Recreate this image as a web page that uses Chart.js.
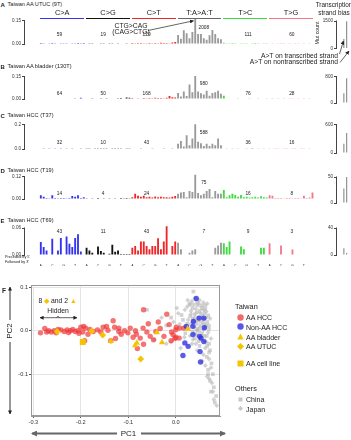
<!DOCTYPE html>
<html>
<head>
<meta charset="utf-8">
<script src="https://cdn.jsdelivr.net/npm/chart.js@4.4.1/dist/chart.umd.min.js"></script>
<style>
  body { margin: 0; background: #fff; }
  #wrap { position: relative; width: 351px; height: 440px; overflow: hidden; font-family: "Liberation Sans", Arial, sans-serif; }
  #wrap canvas { position: absolute; }
  .t { position: absolute; white-space: nowrap; color: #222; line-height: 1; }
  svg { position: absolute; left: 0; top: 0; }
</style>
</head>
<body>
<div id="wrap"></div>
<script>
// ---- data ----
var mutTypes = ['C>A', 'C>G', 'C>T', 'T:A>A:T', 'T>C', 'T>G'];
var bases = ['A', 'C', 'G', 'T'];

// 96 trinucleotide contexts, 16 per mutation type (C>A, C>G, C>T, T>A, T>C, T>G)
var specUTUC = [
  0.006,0.004,0.003,0.005,0.006,0.004,0.003,0.005,0.004,0.004,0.003,0.004,0.005,0.006,0.004,0.007,
  0.003,0.002,0.002,0.003,0.003,0.002,0.002,0.003,0.002,0.002,0.003,0.002,0.003,0.003,0.002,0.003,
  0.006,0.005,0.007,0.006,0.005,0.004,0.006,0.005,0.006,0.005,0.008,0.006,0.007,0.005,0.009,0.012,
  0.058,0.033,0.087,0.069,0.036,0.076,0.165,0.064,0.064,0.036,0.027,0.055,0.090,0.064,0.036,0.030,
  0.008,0.004,0.005,0.006,0.004,0.003,0.005,0.004,0.005,0.003,0.004,0.006,0.004,0.003,0.005,0.004,
  0.003,0.002,0.003,0.002,0.004,0.002,0.003,0.002,0.003,0.002,0.002,0.003,0.002,0.003,0.002,0.003
];
var specBladder = [
  0.004,0.003,0.004,0.003,0.004,0.003,0.003,0.004,0.003,0.004,0.003,0.004,0.005,0.004,0.008,0.004,
  0.003,0.003,0.002,0.003,0.003,0.002,0.003,0.002,0.003,0.003,0.004,0.002,0.006,0.004,0.010,0.008,
  0.006,0.004,0.005,0.004,0.007,0.005,0.006,0.005,0.008,0.006,0.007,0.005,0.008,0.020,0.012,0.010,
  0.040,0.017,0.050,0.020,0.098,0.045,0.155,0.050,0.038,0.030,0.056,0.022,0.040,0.045,0.056,0.035,
  0.022,0.004,0.003,0.004,0.003,0.002,0.003,0.004,0.003,0.002,0.004,0.003,0.002,0.003,0.004,0.002,
  0.003,0.002,0.003,0.002,0.003,0.002,0.003,0.002,0.002,0.003,0.002,0.003,0.002,0.003,0.002,0.003
];
var specT37 = [
  0.004,0.003,0.004,0.003,0.004,0.003,0.005,0.003,0.004,0.003,0.004,0.003,0.005,0.004,0.006,0.004,
  0.003,0.003,0.004,0.003,0.003,0.002,0.003,0.003,0.004,0.003,0.003,0.002,0.003,0.004,0.003,0.003,
  0.004,0.005,0.004,0.006,0.005,0.004,0.005,0.006,0.004,0.005,0.004,0.006,0.005,0.004,0.006,0.005,
  0.043,0.067,0.020,0.114,0.030,0.086,0.205,0.060,0.048,0.024,0.043,0.024,0.043,0.030,0.086,0.030,
  0.004,0.003,0.004,0.003,0.004,0.003,0.005,0.004,0.003,0.004,0.008,0.004,0.003,0.004,0.003,0.004,
  0.003,0.004,0.003,0.003,0.004,0.003,0.003,0.004,0.003,0.003,0.004,0.003,0.006,0.004,0.003,0.005
];
var specT19 = [
  0.020,0.012,0.006,0.004,0.020,0.005,0.004,0.006,0.005,0.004,0.006,0.016,0.012,0.020,0.006,0.010,
  0.004,0.003,0.004,0.003,0.005,0.003,0.004,0.003,0.004,0.003,0.004,0.003,0.005,0.004,0.006,0.004,
  0.010,0.028,0.017,0.012,0.018,0.010,0.012,0.008,0.014,0.010,0.012,0.009,0.010,0.008,0.012,0.016,
  0.028,0.035,0.038,0.010,0.043,0.038,0.130,0.032,0.020,0.028,0.043,0.054,0.010,0.043,0.028,0.028,
  0.048,0.010,0.020,0.028,0.022,0.012,0.022,0.010,0.012,0.008,0.010,0.012,0.008,0.015,0.010,0.008,
  0.020,0.018,0.006,0.005,0.006,0.004,0.005,0.006,0.004,0.005,0.006,0.004,0.018,0.006,0.008,0.035
];
var specT69 = [
  0.029,0.018,0.010,0.001,0.036,0.001,0.010,0.038,0.001,0.041,0.025,0.018,0.038,0.046,0.008,0.001,
  0.016,0.010,0.005,0.001,0.019,0.009,0.005,0.001,0.003,0.023,0.007,0.010,0.002,0.002,0.002,0.002,
  0.016,0.020,0.010,0.030,0.030,0.020,0.013,0.020,0.020,0.037,0.013,0.030,0.064,0.001,0.020,0.030,
  0.027,0.013,0.001,0.001,0.005,0.010,0.013,0.001,0.001,0.001,0.001,0.001,0.001,0.016,0.021,0.027,
  0.026,0.018,0.030,0.001,0.001,0.001,0.019,0.013,0.001,0.001,0.001,0.001,0.001,0.016,0.016,0.001,
  0.026,0.001,0.001,0.001,0.021,0.001,0.001,0.001,0.012,0.001,0.001,0.001,0.001,0.001,0.001,0.001
];

// mutation counts per type
var countsUTUC = [59, 19, 129, 2008, 111, 60];
var countsBladder = [64, 50, 168, 980, 76, 28];
var countsT37 = [32, 10, 43, 588, 36, 16];
var countsT19 = [14, 4, 24, 75, 16, 8];
var countsT69 = [43, 11, 43, 7, 9, 3];

// A>T on transcribed / nontranscribed strand
var strandUTUC = [520, 1490];
var strandBladder = [300, 760];
var strandT37 = [200, 430];
var strandT19 = [28, 50];
var strandT69 = [10, 3];

// PCA (PC1, PC2)
var aaHcc = [[-0.285,-0.005],[-0.276,0.005],[-0.272,-0.003],[-0.268,0.0],[-0.262,-0.003],[-0.256,0.0],[-0.252,-0.005],
  [-0.248,0.003],[-0.242,0.002],[-0.235,-0.002],[-0.229,0.002],[-0.226,-0.004],[-0.222,0.0],[-0.217,0.003],[-0.212,-0.002],
  [-0.206,0.0],[-0.204,-0.006],[-0.2,0.008],[-0.196,-0.003],[-0.194,0.01],[-0.19,0.006],[-0.185,-0.008],[-0.181,0.003],
  [-0.174,-0.002],[-0.165,0.002],[-0.158,-0.003],[-0.153,0.008],[-0.146,0.01],[-0.143,0.001],[-0.132,0.023],[-0.129,0.008],
  [-0.127,-0.018],[-0.12,-0.002],[-0.12,0.006],[-0.115,-0.008],[-0.108,0.0],[-0.101,-0.005],[-0.096,0.006],[-0.09,-0.015],
  [-0.085,0.0],[-0.083,-0.008],[-0.081,-0.041],[-0.075,-0.017],[-0.069,0.006],[-0.068,0.048],[-0.068,-0.031],[-0.061,-0.003],
  [-0.058,0.016],[-0.054,-0.013],[-0.047,-0.021],[-0.042,-0.002],[-0.037,0.02],[-0.033,0.005],[-0.025,-0.013],[-0.019,0.038],
  [-0.014,0.014],[-0.006,-0.009],[0.001,0.008],[0.0,-0.015],[-0.192,-0.023],[-0.137,-0.023],[-0.009,-0.003],[0.0,0.002],
  [0.008,0.006],[0.017,0.006],[0.007,-0.017],[-0.002,-0.018],[-0.01,-0.023]];
var nonAaHcc = [[0.043,0.074],[0.049,0.029],[0.059,0.029],[0.06,0.007],[0.037,0.021],[0.036,0.01],[0.022,0.01],[0.036,-0.009],
  [0.05,-0.013],[0.053,-0.017],[0.059,-0.025],[0.019,-0.028],[0.026,-0.036],[0.051,-0.048],[0.015,-0.057],[0.052,-0.072]];
var aaBladder = [[-0.137,-0.024],[-0.086,-0.034],[-0.082,-0.028],[-0.04,-0.004],[-0.029,-0.027],[0.025,0.004]];
var aaUtuc = [[-0.25,-0.002],[-0.177,-0.001],[-0.154,-0.01],[-0.074,-0.065]];
var aaCellLine = [[-0.196,-0.026]];
var china = [[0.037,0.09],[0.029,0.06],[0.045,0.066],[0.055,0.058],[0.062,0.05],[0.035,0.052],[0.05,0.045],[0.06,0.04],
  [0.068,0.035],[0.04,0.038],[0.03,0.033],[0.048,0.03],[0.058,0.025],[0.066,0.02],[0.042,0.022],[0.032,0.015],[0.052,0.012],
  [0.062,0.008],[0.07,0.004],[0.045,0.004],[0.035,-0.002],[0.055,-0.006],[0.065,-0.012],[0.04,-0.018],[0.06,-0.022],
  [0.07,-0.03],[0.05,-0.035],[0.072,-0.045],[0.065,-0.06],[0.075,-0.075],[0.068,-0.09],[0.078,-0.1],[0.072,-0.115],
  [0.08,-0.13],[0.085,-0.15],[0.082,-0.165],[-0.061,0.048],[-0.02,0.012],[-0.01,0.03],[0.012,0.036],
  [0.046,0.058],[0.054,0.052],[0.038,0.06],[0.044,0.042],[0.056,0.034],[0.036,0.022],[0.046,0.024],[0.06,0.015],
  [0.05,0.006],[0.04,-0.006],[0.06,-0.012],[0.048,-0.024],[0.066,-0.035],[0.07,-0.05],[0.024,0.016],[0.02,-0.006],
  [0.03,0.062],[0.062,0.058],[0.015,0.025],[0.068,-0.1],[0.074,-0.14],[0.064,0.012]];
var japan = [[0.019,0.048],[0.025,0.07],[0.04,0.075],[0.05,0.07],[0.058,0.065],[0.032,0.045],[0.042,0.05],[0.052,0.04],
  [0.064,0.044],[0.072,0.028],[0.026,0.025],[0.036,0.028],[0.044,0.015],[0.056,0.018],[0.064,0.03],[0.028,0.005],
  [0.038,0.008],[0.048,-0.002],[0.058,0.002],[0.068,-0.004],[0.03,-0.012],[0.044,-0.01],[0.052,-0.02],[0.074,-0.018],
  [0.034,-0.03],[0.045,-0.045],[0.062,-0.04],[0.058,-0.055],[0.07,-0.065],[0.062,-0.08],[0.074,-0.085],[0.066,-0.105],
  [0.076,-0.12],[0.078,-0.14],[0.086,-0.172],[-0.03,0.03],[-0.045,-0.02],[-0.02,-0.03],[-0.01,-0.025],[-0.005,0.02],
  [0.005,0.04],[0.01,-0.04],
  [0.034,0.068],[0.048,0.062],[0.04,0.03],[0.05,0.022],[0.032,0.038],[0.058,0.048],[0.044,0.002],[0.054,-0.012],
  [0.036,-0.02],[0.064,-0.026],[0.024,0.055],[0.066,0.062],[0.07,0.012],[0.042,-0.03],[0.056,-0.07],[0.07,-0.11],
  [0.08,-0.158],[0.018,-0.015],[0.008,0.015],[0.002,0.052]];
var pcXTicks = [-0.3, -0.2, -0.1, 0.0];
var pcYTicks = [-0.1, 0.0, 0.1];

// ---- layout / style ----
var FONT = '"Liberation Sans", Arial, sans-serif';
var typeColors = ['#3434ee', '#111111', '#ee2626', '#9a9a9a', '#3ddc3d', '#f27888'];
var headColors = ['#3434ee', '#111111', '#ee2626', '#666666', '#3ddc3d', '#f27888'];
var numPos = [6.5, 21.8, 37, 57, 72.5, 87.8];

var panels = [
  { letter: 'A', title: 'Taiwan AA UTUC (9T)', data: specUTUC, counts: countsUTUC, strand: strandUTUC,
    titleY: 5, yTick: 0.15, yMax: 0.17, dec: 2, y0: 48.5, yT: 21, sTick: 1500, sMax: 1600, numY: 35, bigY: 28 },
  { letter: 'B', title: 'Taiwan AA bladder (130T)', data: specBladder, counts: countsBladder, strand: strandBladder,
    titleY: 67, yTick: 0.15, yMax: 0.165, dec: 2, y0: 103, yT: 77, sTick: 800, sMax: 820, numY: 94, bigY: 84 },
  { letter: 'C', title: 'Taiwan HCC (T37)', data: specT37, counts: countsT37, strand: strandT37,
    titleY: 116, yTick: 0.2, yMax: 0.21, dec: 1, y0: 153, yT: 125, sTick: 600, sMax: 620, numY: 143, bigY: 133 },
  { letter: 'D', title: 'Taiwan HCC (T19)', data: specT19, counts: countsT19, strand: strandT19,
    titleY: 171, yTick: 0.12, yMax: 0.135, dec: 2, y0: 203, yT: 177, sTick: 50, sMax: 55, numY: 194, bigY: 183 },
  { letter: 'E', title: 'Taiwan HCC (T69)', data: specT69, counts: countsT69, strand: strandT69,
    titleY: 221, yTick: 0.06, yMax: 0.066, dec: 2, y0: 255, yT: 228, sTick: 40, sMax: 42, numY: 232, bigY: 232, xlab: true }
];

var wrap = document.getElementById('wrap');

function addCanvas(x, y, w, h) {
  var c = document.createElement('canvas');
  c.width = w; c.height = h;
  c.style.left = x + 'px'; c.style.top = y + 'px';
  c.style.width = w + 'px'; c.style.height = h + 'px';
  wrap.appendChild(c);
  return c;
}

function txt(s, x, y, size, o) {
  o = o || {};
  var d = document.createElement('div');
  d.className = 't';
  if (o.html) d.innerHTML = s; else d.textContent = s;
  d.style.left = x + 'px';
  d.style.top = y + 'px';
  d.style.fontSize = size + 'px';
  var ax = o.align === 'center' ? '-50%' : (o.align === 'right' ? '-100%' : '0');
  d.style.transform = 'translate(' + ax + ',-50%)' + (o.rot ? ' rotate(' + o.rot + 'deg)' : '');
  if (o.bold) d.style.fontWeight = 'bold';
  if (o.color) d.style.color = o.color;
  wrap.appendChild(d);
  return d;
}

function yBracket(topVal) {
  return {
    id: 'ybracket',
    afterDatasetsDraw: function (chart) {
      var ys = chart.scales.y, x = Math.round(chart.chartArea.left) - 0.5, ctx = chart.ctx;
      ctx.save();
      ctx.strokeStyle = '#444'; ctx.lineWidth = 1;
      ctx.beginPath();
      ctx.moveTo(x, ys.getPixelForValue(0) + 0.5);
      ctx.lineTo(x, ys.getPixelForValue(topVal) - 0.5);
      ctx.stroke();
      ctx.restore();
    }
  };
}

function spectrumChart(p) {
  var chartTop = p.y0 - (p.y0 - p.yT) * p.yMax / p.yTick;
  var bottomPad = p.xlab ? 11 : 4;
  var top = Math.floor(chartTop - 4);
  var H = Math.round(p.y0 + bottomPad - top);
  var padTop = chartTop - top;
  var padBottom = top + H - p.y0;
  var cv = addCanvas(0, top, 318, H);
  var colors = p.data.map(function (v, i) { return typeColors[Math.floor(i / 16)]; });
  var chart = new Chart(cv, {
    type: 'bar',
    data: { datasets: [{ data: p.data.map(function (v, i) { return { x: i, y: v }; }),
      backgroundColor: colors, barPercentage: 0.65, categoryPercentage: 1 }] },
    options: {
      responsive: false, animation: false, devicePixelRatio: 1,
      layout: { padding: { top: padTop, bottom: p.xlab ? 0 : padBottom, left: 0, right: 0 } },
      plugins: { legend: { display: false }, tooltip: { enabled: false } },
      scales: {
        x: {
          type: 'linear', min: -5, max: 96.4, display: !!p.xlab,
          grid: { display: false }, border: { display: false },
          afterBuildTicks: function (a) { a.ticks = p.data.map(function (v, i) { return { value: i }; }); },
          afterFit: function (a) { a.height = padBottom; },
          ticks: {
            autoSkip: false, maxRotation: 0, padding: 0.5, color: '#333',
            font: { size: 3.6, family: FONT, lineHeight: 1.15 },
            callback: function (v) { var k = v % 16; return [k % 4 === 0 ? bases[k / 4] : '', bases[k % 4]]; }
          }
        },
        y: {
          min: 0, max: p.yMax,
          border: { display: false },
          grid: { drawOnChartArea: false, tickLength: 3, color: '#444' },
          afterBuildTicks: function (a) { a.ticks = [{ value: 0 }, { value: p.yTick }]; },
          afterFit: function (a) { a.width = 25; },
          ticks: { padding: 1, color: '#333', font: { size: 4.6, family: FONT },
            callback: function (v) { return v.toFixed(p.dec); } }
        }
      }
    },
    plugins: [yBracket(p.yTick)]
  });
  return chart;
}

function strandChart(p) {
  var chartTop = p.y0 - (p.y0 - p.yT) * p.sMax / p.sTick;
  var top = Math.floor(chartTop - 4);
  var H = Math.round(p.y0 + 4 - top);
  var cv = addCanvas(315, top, 36, H);
  return new Chart(cv, {
    type: 'bar',
    data: { datasets: [{ data: p.strand.map(function (v, i) { return { x: i, y: v }; }),
      backgroundColor: '#8a8a8a', barPercentage: 0.4, categoryPercentage: 1 }] },
    options: {
      responsive: false, animation: false, devicePixelRatio: 1,
      layout: { padding: { top: chartTop - top, bottom: top + H - p.y0, left: 0, right: 0 } },
      plugins: { legend: { display: false }, tooltip: { enabled: false } },
      scales: {
        x: { type: 'linear', min: -1.2, max: 1.3, display: false },
        y: {
          min: 0, max: p.sMax,
          border: { display: false },
          grid: { drawOnChartArea: false, tickLength: 3, color: '#444' },
          afterBuildTicks: function (a) { a.ticks = [{ value: 0 }, { value: p.sTick }]; },
          afterFit: function (a) { a.width = 22; },
          ticks: { padding: 1, color: '#333', font: { size: 4.6, family: FONT },
            callback: function (v) { return String(v); } }
        }
      }
    },
    plugins: [yBracket(p.sTick)]
  });
}

panels.forEach(function (p, pi) {
  var chart = spectrumChart(p);
  strandChart(p);
  txt(p.letter, 0.5, p.titleY, 6, { bold: true });
  txt(p.title, 7.5, p.titleY, 5.6);
  var xs = chart.scales.x;
  p.counts.forEach(function (c, g) {
    txt(String(c), xs.getPixelForValue(numPos[g]), g === 3 ? p.bigY : p.numY, 4.8, { align: 'center' });
  });
  if (pi === 0) {
    mutTypes.forEach(function (m, g) {
      var x1 = xs.getPixelForValue(16 * g - 0.5) + 1, x2 = xs.getPixelForValue(16 * g + 15.5) - 1;
      txt(m, (x1 + x2) / 2, 13, 7.4, { align: 'center' });
      var ln = document.createElement('div');
      ln.style.cssText = 'position:absolute;height:1.3px;background:' + headColors[g] +
        ';left:' + x1 + 'px;top:17.6px;width:' + (x2 - x1) + 'px';
      wrap.appendChild(ln);
    });
  }
});

// panel A annotations
txt('CTG>CAG', 131, 25.5, 6.8, { align: 'center' });
txt('(CAG>CTG)', 131, 32.3, 6.8, { align: 'center' });
txt('Transcription', 334, 5, 6.4, { align: 'center' });
txt('strand bias', 334, 12.5, 6.4, { align: 'center' });
txt('Mut count', 318, 33, 5.2, { align: 'center', rot: -90 });
txt('A>T on transcribed strand', 338, 55.5, 6.7, { align: 'right' });
txt('A>T on nontranscribed strand', 338, 62.3, 6.7, { align: 'right' });
txt("Preceded by 5'", 5, 257.8, 3.8);
txt("Followed by 3'", 5, 263.3, 3.8);

// ---- panel F: PCA scatter ----
function pts(a) { return a.map(function (d) { return { x: d[0], y: d[1] }; }); }
var YEL = '#f5c400';
var scatter = new Chart(addCanvas(0, 279, 226, 152), {
  type: 'scatter',
  data: {
    datasets: [
      { label: 'AA cell line', data: pts(aaCellLine), pointStyle: 'rect', radius: 4.2, backgroundColor: YEL },
      { label: 'AA UTUC', data: pts(aaUtuc), pointStyle: 'rectRot', radius: 3.4, backgroundColor: YEL },
      { label: 'AA bladder', data: pts(aaBladder), pointStyle: 'triangle', radius: 3.6, backgroundColor: YEL },
      { label: 'Non-AA HCC', data: pts(nonAaHcc), pointStyle: 'circle', radius: 2.7, backgroundColor: 'rgba(45,45,230,0.78)' },
      { label: 'AA HCC', data: pts(aaHcc), pointStyle: 'circle', radius: 2.7, backgroundColor: 'rgba(240,55,55,0.7)' },
      { label: 'China', data: pts(china), pointStyle: 'rect', radius: 2.6, backgroundColor: 'rgba(180,180,180,0.6)' },
      { label: 'Japan', data: pts(japan), pointStyle: 'rectRot', radius: 2.4, backgroundColor: 'rgba(180,180,180,0.6)' }
    ]
  },
  options: {
    responsive: false, animation: false, devicePixelRatio: 1,
    layout: { padding: { top: 6, right: 6, left: 0, bottom: 0 } },
    elements: { point: { borderWidth: 0 } },
    plugins: { legend: { display: false }, tooltip: { enabled: false } },
    scales: {
      x: {
        type: 'linear', min: -0.305, max: 0.093,
        border: { color: '#999' },
        grid: { color: '#e4e4e4', tickColor: '#555', tickLength: 2 },
        afterBuildTicks: function (a) { a.ticks = pcXTicks.map(function (v) { return { value: v }; }); },
        afterFit: function (a) { a.height = 15; },
        ticks: { padding: 1, color: '#333', font: { size: 5.6, family: FONT },
          callback: function (v) { return v.toFixed(1); } }
      },
      y: {
        min: -0.196, max: 0.105,
        border: { color: '#999' },
        grid: { color: '#e4e4e4', tickColor: '#555', tickLength: 2 },
        afterBuildTicks: function (a) { a.ticks = pcYTicks.map(function (v) { return { value: v }; }); },
        afterFit: function (a) { a.width = 31; },
        ticks: { padding: 1, color: '#333', font: { size: 5.6, family: FONT },
          callback: function (v) { return v.toFixed(1); } }
      }
    }
  },
  plugins: [{
    id: 'frame',
    afterDraw: function (chart) {
      var a = chart.chartArea, ctx = chart.ctx;
      ctx.save(); ctx.strokeStyle = '#999'; ctx.lineWidth = 1;
      ctx.strokeRect(Math.round(a.left) + 0.5, Math.round(a.top) + 0.5, Math.round(a.right - a.left) - 1, Math.round(a.bottom - a.top) - 1);
      ctx.restore();
    }
  }]
});

txt('F', 2, 290.5, 6.5, { bold: true });
txt('8 <span style="color:' + YEL + '">&#9670;</span> and 2 <span style="color:' + YEL + '">&#9650;</span>', 38.5, 301, 6.8, { html: true });
txt('Hidden', 58, 311, 6.8, { align: 'center' });
txt('PC2', 10, 331, 8, { align: 'center', rot: -90 });
txt('PC1', 128.5, 433.5, 8, { align: 'center' });

// legend
function marker(shape, color, s) {
  var h = s / 2, inner;
  if (shape === 'circle') inner = '<circle cx="' + h + '" cy="' + h + '" r="' + (h - 0.3) + '" fill="' + color + '"/>';
  else if (shape === 'triangle') inner = '<polygon points="' + h + ',0.4 ' + (s - 0.3) + ',' + (s - 0.6) + ' 0.3,' + (s - 0.6) + '" fill="' + color + '"/>';
  else if (shape === 'diamond') inner = '<polygon points="' + h + ',0 ' + s + ',' + h + ' ' + h + ',' + s + ' 0,' + h + '" fill="' + color + '"/>';
  else inner = '<rect x="0.5" y="0.5" width="' + (s - 1) + '" height="' + (s - 1) + '" fill="' + color + '"/>';
  return '<svg width="' + s + '" height="' + s + '" style="position:static;vertical-align:middle">' + inner + '</svg>';
}
var legendRows = [
  ['circle', 'rgba(240,55,55,0.75)', 'AA HCC', 317.3, 7],
  ['circle', 'rgba(45,45,230,0.8)', 'Non-AA HCC', 326.8, 7],
  ['triangle', YEL, 'AA bladder', 336.6, 7],
  ['diamond', YEL, 'AA UTUC', 346.2, 7],
  ['square', YEL, 'AA cell line', 363.4, 7],
  ['square', 'rgba(185,185,185,0.8)', 'China', 399, 5],
  ['diamond', 'rgba(185,185,185,0.8)', 'Japan', 408.8, 5]
];
txt('Taiwan', 235, 306.7, 7.3);
txt('Others', 235, 389, 7.3);
legendRows.forEach(function (r) {
  var m = document.createElement('div');
  m.style.cssText = 'position:absolute;line-height:0;left:' + (240 - r[4] / 2) + 'px;top:' + (r[3] - r[4] / 2) + 'px';
  m.innerHTML = marker(r[0], r[1], r[4]);
  wrap.appendChild(m);
  txt(r[2], 246, r[3], 7);
});

// arrows
var svgNS = 'http://www.w3.org/2000/svg';
var svg = document.createElementNS(svgNS, 'svg');
svg.setAttribute('width', 351); svg.setAttribute('height', 440);
svg.innerHTML =
  '<defs>' +
  '<marker id="ah" markerUnits="userSpaceOnUse" markerWidth="4" markerHeight="4" refX="3.6" refY="2" orient="auto-start-reverse"><path d="M0,0 L4,2 L0,4 z" fill="#222"/></marker>' +
  '<marker id="ahg" markerUnits="userSpaceOnUse" markerWidth="6" markerHeight="6" refX="5" refY="3" orient="auto-start-reverse"><path d="M0,0 L6,3 L0,6 z" fill="#666"/></marker>' +
  '</defs>' +
  '<line x1="148" y1="30.5" x2="193.5" y2="20.8" stroke="#222" stroke-width="0.7" marker-end="url(#ah)"/>' +
  '<line x1="339.5" y1="54" x2="343.5" y2="41" stroke="#222" stroke-width="0.7" marker-end="url(#ah)"/>' +
  '<line x1="340" y1="62.5" x2="349" y2="51" stroke="#222" stroke-width="0.7" marker-end="url(#ah)"/>' +
  '<line x1="40" y1="317.7" x2="77" y2="317.7" stroke="#222" stroke-width="0.7" marker-start="url(#ah)" marker-end="url(#ah)"/>' +
  '<path d="M56.5,317.7 L58,316 L59.5,317.7" fill="none" stroke="#222" stroke-width="0.6"/>' +
  '<line x1="10" y1="320" x2="10" y2="287" stroke="#333" stroke-width="1" marker-end="url(#ah)"/>' +
  '<line x1="10" y1="342" x2="10" y2="414" stroke="#333" stroke-width="1" marker-end="url(#ah)"/>' +
  '<line x1="117" y1="433.5" x2="32" y2="433.5" stroke="#666" stroke-width="1.8" marker-end="url(#ahg)"/>' +
  '<line x1="141" y1="433.5" x2="225" y2="433.5" stroke="#666" stroke-width="1.8" marker-end="url(#ahg)"/>';
wrap.appendChild(svg);
</script>
</body>
</html>
